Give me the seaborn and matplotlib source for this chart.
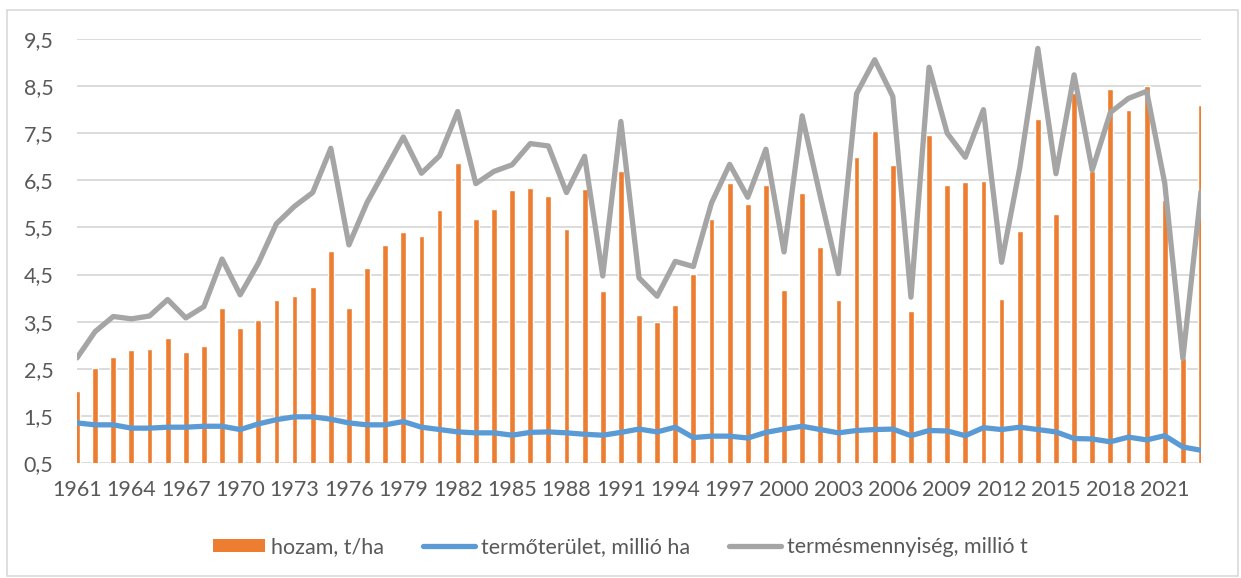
import numpy as np
import pandas as pd
import matplotlib
matplotlib.use("Agg")
import matplotlib.pyplot as plt
import seaborn as sns
from matplotlib.patches import Rectangle
from matplotlib.lines import Line2D
from matplotlib.ticker import FuncFormatter

years = list(range(1961, 2024))

hozam = [2.02, 2.52, 2.75, 2.90, 2.93, 3.15, 2.85, 2.99, 3.78, 3.37,
         3.53, 3.97, 4.04, 4.23, 5.01, 3.80, 4.64, 5.13, 5.41, 5.32,
         5.87, 6.86, 5.68, 5.90, 6.30, 6.33, 6.17, 5.46, 6.32, 4.16,
         6.70, 3.65, 3.50, 3.85, 4.52, 5.68, 6.44, 6.00, 6.41, 4.17,
         6.24, 5.08, 3.95, 7.00, 7.55, 6.82, 3.73, 7.46, 6.40, 6.47,
         6.49, 3.99, 5.43, 7.81, 5.78, 8.35, 6.70, 8.43, 8.00, 8.51,
         6.09, 2.72, 8.09]

termoterulet = [1.35, 1.31, 1.31, 1.24, 1.24, 1.26, 1.26, 1.28, 1.28, 1.21,
                1.33, 1.42, 1.48, 1.48, 1.43, 1.35, 1.31, 1.31, 1.38, 1.26,
                1.21, 1.16, 1.14, 1.14, 1.09, 1.15, 1.16, 1.14, 1.11, 1.09,
                1.15, 1.22, 1.16, 1.26, 1.04, 1.07, 1.07, 1.03, 1.15, 1.22,
                1.28, 1.21, 1.14, 1.19, 1.21, 1.22, 1.08, 1.19, 1.18, 1.08,
                1.25, 1.21, 1.26, 1.21, 1.16, 1.02, 1.01, 0.95, 1.05, 0.99,
                1.08, 0.84, 0.77]

termesmennyiseg = [2.73, 3.29, 3.61, 3.56, 3.62, 3.97, 3.58, 3.82, 4.83, 4.07,
                   4.74, 5.58, 5.95, 6.24, 7.18, 5.13, 6.03, 6.72, 7.42, 6.65,
                   7.02, 7.96, 6.43, 6.69, 6.83, 7.28, 7.23, 6.24, 7.01, 4.47,
                   7.75, 4.43, 4.04, 4.78, 4.67, 6.02, 6.84, 6.14, 7.16, 4.98,
                   7.87, 6.16, 4.52, 8.34, 9.06, 8.28, 4.02, 8.90, 7.50, 6.99,
                   8.00, 4.76, 6.76, 9.30, 6.64, 8.74, 6.72, 7.94, 8.24, 8.39,
                   6.44, 2.72, 6.26]

labels = ["hozam, t/ha", "termőterület, millió ha", "termésmennyiség, millió t"]
y_ticks = [0.5, 1.5, 2.5, 3.5, 4.5, 5.5, 6.5, 7.5, 8.5, 9.5]
x_ticks = list(range(1961, 2022, 3))

df = pd.DataFrame({"year": years, "hozam": hozam,
                   "terulet": termoterulet, "termes": termesmennyiseg})

ORANGE = "#ED7D31"
BLUE = "#5B9BD5"
GREY = "#A5A5A5"
TXT = "#595959"
GRID = "#D9D9D9"

sns.set_theme(style="white")
plt.rcParams["font.family"] = ["Lato", "DejaVu Sans"]

fig = plt.figure(figsize=(12.41, 5.78), dpi=100)
ax = fig.add_axes([77 / 1241, 1 - 463 / 578, (1201 - 77) / 1241, (463 - 39) / 578])

sns.barplot(data=df, x="year", y="hozam", native_scale=True, width=0.32,
            color=ORANGE, saturation=1, ax=ax, zorder=2)
sns.lineplot(data=df, x="year", y="terulet", color=BLUE, lw=3.8, ax=ax,
             zorder=3, solid_capstyle="round", solid_joinstyle="round")
sns.lineplot(data=df, x="year", y="termes", color=GREY, lw=3.8, ax=ax,
             zorder=4, solid_capstyle="round", solid_joinstyle="round")

ax.set_xlim(1961, 2023)
ax.set_ylim(0.5, 9.5)
ax.set_yticks(y_ticks)
ax.set_xticks(x_ticks)
ax.yaxis.set_major_formatter(FuncFormatter(lambda v, p: f"{v:.1f}".replace(".", ",")))
ax.set_xticklabels([str(y) for y in x_ticks])
ax.set_xlabel("")
ax.set_ylabel("")
ax.grid(axis="y", color=GRID, lw=1.3, zorder=0)
ax.grid(axis="x", visible=False)
for s in ax.spines.values():
    s.set_visible(False)
ax.tick_params(axis="both", length=0, labelsize=15.5, colors=TXT)
ax.tick_params(axis="y", pad=17)
ax.tick_params(axis="x", pad=12)

handles = [Rectangle((0, 0), 1, 1, facecolor=ORANGE, edgecolor="none"),
           Line2D([], [], color=BLUE, lw=3.8, solid_capstyle="round"),
           Line2D([], [], color=GREY, lw=3.8, solid_capstyle="round")]
leg = fig.legend(handles, labels, loc="center", bbox_to_anchor=(0.5, 1 - 547 / 578),
                 ncol=3, frameon=False, fontsize=15.5, handlelength=2.4,
                 handleheight=0.6, handletextpad=0.3, columnspacing=1.8)
for t in leg.get_texts():
    t.set_color(TXT)

fig.patches.append(Rectangle((7 / 1241, 2 / 578), 1231 / 1241, 566 / 578,
                             transform=fig.transFigure, fill=False,
                             edgecolor=GRID, lw=1.2))

fig.savefig("out.png", dpi=100)
